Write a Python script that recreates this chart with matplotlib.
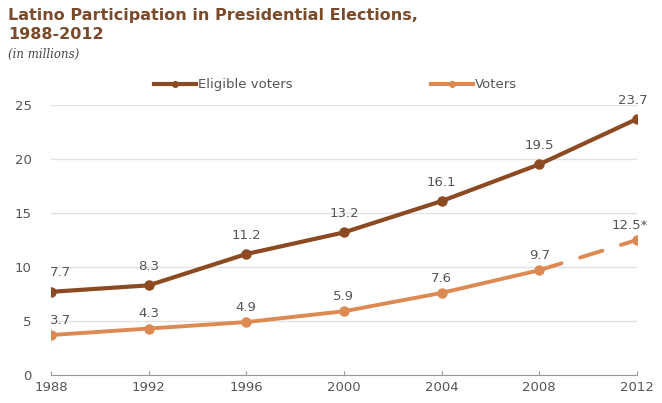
import matplotlib
matplotlib.use('Agg')
import matplotlib.pyplot as plt
from matplotlib.lines import Line2D

years = [1988, 1992, 1996, 2000, 2004, 2008, 2012]
eligible = [7.7, 8.3, 11.2, 13.2, 16.1, 19.5, 23.7]
voters = [3.7, 4.3, 4.9, 5.9, 7.6, 9.7, 12.5]
voter_labels = ['3.7', '4.3', '4.9', '5.9', '7.6', '9.7', '12.5*']

BROWN = '#8c4a22'
ORANGE = '#dd8a52'
TITLE = '#7a4a2a'
GRAY = '#555555'

fig = plt.figure(figsize=(6.62, 4.03), dpi=100)
ax = fig.add_axes([0.077, 0.0695, 0.885, 0.67])

ax.plot(years, eligible, color=BROWN, lw=3, marker='o', ms=6.5,
        solid_capstyle='round', zorder=3)
# voters: solid through 2008, dashed projection to 2012
ax.plot(years[:-1], voters[:-1], color=ORANGE, lw=2.8, marker='o', ms=6.5,
        zorder=3)
ax.plot(years[-2:], voters[-2:], color=ORANGE, lw=2.8, ls=(0, (6, 5)),
        dash_capstyle='round', zorder=3)
ax.plot(years[-1], voters[-1], color=ORANGE, marker='o', ms=6.5, zorder=3)

for i, (x, y) in enumerate(zip(years, eligible)):
    dx = 7 if i == 0 else (-3 if i == len(years) - 1 else 0)
    ax.annotate(f'{y}', (x, y), xytext=(dx, 9), textcoords='offset points',
                ha='center', va='bottom', fontsize=9.5, color=GRAY,
                annotation_clip=False)
for i, (x, y) in enumerate(zip(years, voters)):
    dx = 7 if i == 0 else (-5 if i == len(years) - 1 else 0)
    ax.annotate(voter_labels[i], (x, y), xytext=(dx, 6),
                textcoords='offset points', ha='center', va='bottom',
                fontsize=9.5, color=GRAY, annotation_clip=False)

ax.set_xlim(1988, 2012)
ax.set_ylim(0, 25)
ax.set_xticks(years)
ax.set_yticks([0, 5, 10, 15, 20, 25])
ax.tick_params(axis='x', direction='in', length=3, color='#999999',
               labelsize=9.5, labelcolor=GRAY, pad=4)
ax.tick_params(axis='y', length=0, labelsize=9.5, labelcolor=GRAY, pad=14)
ax.grid(axis='y', color='#e2e2e2', lw=1)
ax.set_axisbelow(True)
for s in ('left', 'right', 'top'):
    ax.spines[s].set_visible(False)
ax.spines['bottom'].set_color('#999999')

handles = [Line2D([], [], color=BROWN, lw=3, marker='o', ms=4),
           Line2D([], [], color=ORANGE, lw=3, marker='o', ms=4)]
fig.legend(handles, ['Eligible voters', 'Voters'], loc='center left',
           bbox_to_anchor=(0.215, 0.79), ncol=2, frameon=False,
           handlelength=3.2, handletextpad=0.1, columnspacing=10.5,
           fontsize=9.5, labelcolor=GRAY)

fig.text(0.012, 0.98, 'Latino Participation in Presidential Elections,\n1988-2012',
         fontsize=11.5, fontweight='bold', color=TITLE, va='top', ha='left',
         linespacing=1.3)
fig.text(0.012, 0.88, '(in millions)', fontsize=8.5, style='italic',
         family='DejaVu Serif', color='#444444', va='top', ha='left')

fig.savefig('out.png', dpi=100)
